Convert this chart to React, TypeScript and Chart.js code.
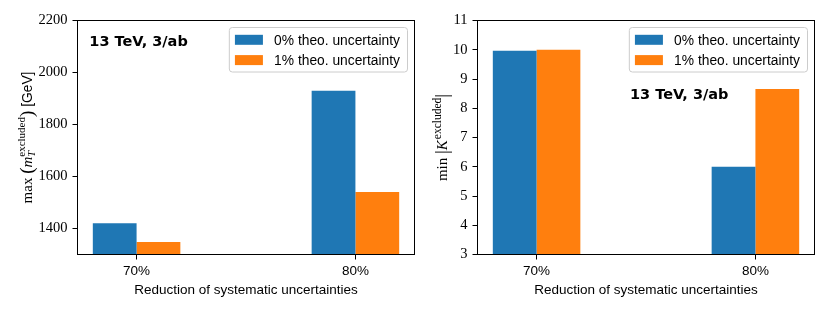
import React, { useEffect, useRef } from 'react';
import { Chart, registerables } from 'chart.js';

Chart.register(...registerables);

// ---------- data ----------
const categories = ['70%', '80%'];
const seriesLabels = ['0% theo. uncertainty', '1% theo. uncertainty'];
const seriesColors = ['#1f77b4', '#ff7f0e'];

const massZeroTheo = [1420, 1930];
const massOneTheo = [1348, 1540];
const kappaZeroTheo = [9.97, 6.0];
const kappaOneTheo = [10.0, 8.66];

const massTicks = [1400, 1600, 1800, 2000, 2200];
const kappaTicks = [3, 4, 5, 6, 7, 8, 9, 10, 11];
const massRange = [1300, 2200];
const kappaRange = [3, 11];
const xRange = [-0.27, 1.27];

const annotationText = '13 TeV, 3/ab';
const xTitle = 'Reduction of systematic uncertainties';

// ---------- styles ----------
const SERIF = '"Liberation Serif", "DejaVu Serif", serif';
const SANS = '"Liberation Sans", Arial, sans-serif';
const BOLD = 'bold 14.5px "DejaVu Sans", sans-serif';

type Seg = { t: string; f: string; dy?: number; stack?: boolean };

const massYLabel: Seg[] = [
  { t: 'max', f: `15px ${SERIF}` },
  { t: ' ', f: `15px ${SERIF}` },
  { t: '(', f: `19px ${SERIF}`, dy: 1.5 },
  { t: 'm', f: `italic 15px ${SERIF}` },
  { t: 'T', f: `italic 10.5px ${SERIF}`, dy: 3, stack: true },
  { t: 'excluded', f: `11px ${SERIF}`, dy: -6.5 },
  { t: ')', f: `19px ${SERIF}`, dy: 1.5 },
  { t: ' [GeV]', f: `13.8px ${SANS}` },
];

const kappaYLabel: Seg[] = [
  { t: 'min', f: `15px ${SERIF}` },
  { t: ' ', f: `15px ${SERIF}` },
  { t: '|', f: `19px ${SERIF}`, dy: 1 },
  { t: 'K', f: `italic 15px ${SERIF}` },
  { t: ' ', f: `4px ${SERIF}` },
  { t: 'excluded', f: `11.5px ${SERIF}`, dy: -6.5 },
  { t: '|', f: `19px ${SERIF}`, dy: 1 },
];

function drawRotated(ctx: CanvasRenderingContext2D, segs: Seg[], x: number, cy: number) {
  const widths: number[] = [];
  let total = 0;
  segs.forEach((s) => {
    ctx.font = s.f;
    const w = ctx.measureText(s.t).width;
    widths.push(w);
    if (!s.stack) total += w;
  });
  ctx.save();
  ctx.translate(x, cy);
  ctx.rotate(-Math.PI / 2);
  ctx.fillStyle = '#000';
  ctx.textAlign = 'left';
  ctx.textBaseline = 'alphabetic';
  let cx = -total / 2;
  segs.forEach((s, i) => {
    ctx.font = s.f;
    ctx.fillText(s.t, cx, s.dy || 0);
    if (!s.stack) cx += widths[i];
  });
  ctx.restore();
}

function makeDecor(yLabel: Seg[], yLabelOffset: number, annot: { fx: number; fy: number }) {
  return {
    id: 'decor',
    afterDraw(chart: any) {
      const ctx: CanvasRenderingContext2D = chart.ctx;
      const a = chart.chartArea;
      const w = a.right - a.left;
      const h = a.bottom - a.top;
      ctx.save();
      // frame
      ctx.strokeStyle = '#000';
      ctx.lineWidth = 1;
      ctx.strokeRect(a.left, a.top, w, h);

      // x title
      ctx.fillStyle = '#000';
      ctx.font = `13.5px ${SANS}`;
      ctx.textAlign = 'center';
      ctx.textBaseline = 'alphabetic';
      ctx.fillText(xTitle, (a.left + a.right) / 2, a.bottom + 39);

      // annotation
      ctx.font = BOLD;
      ctx.textAlign = 'left';
      ctx.fillText(annotationText, a.left + annot.fx * w, a.top + annot.fy * h);

      // legend
      const fs = 13.8;
      ctx.font = `${fs}px ${SANS}`;
      const tw = Math.max(...seriesLabels.map((l) => ctx.measureText(l).width));
      const pad = 5.6;
      const hl = 28;
      const htp = 11.2;
      const bw = pad + hl + htp + tw + pad + 2;
      const bh = 44.5;
      const bx = a.right - 7 - bw;
      const by = a.top + 7;
      const r = 3;
      ctx.beginPath();
      ctx.moveTo(bx + r, by);
      ctx.lineTo(bx + bw - r, by);
      ctx.arcTo(bx + bw, by, bx + bw, by + r, r);
      ctx.lineTo(bx + bw, by + bh - r);
      ctx.arcTo(bx + bw, by + bh, bx + bw - r, by + bh, r);
      ctx.lineTo(bx + r, by + bh);
      ctx.arcTo(bx, by + bh, bx, by + bh - r, r);
      ctx.lineTo(bx, by + r);
      ctx.arcTo(bx, by, bx + r, by, r);
      ctx.closePath();
      ctx.fillStyle = 'rgba(255,255,255,0.8)';
      ctx.fill();
      ctx.strokeStyle = '#cccccc';
      ctx.lineWidth = 1;
      ctx.stroke();
      seriesLabels.forEach((lab, i) => {
        const cy = by + 12.3 + i * 20.3;
        ctx.fillStyle = seriesColors[i];
        ctx.fillRect(bx + pad, cy - 5, hl, 10);
        ctx.fillStyle = '#000';
        ctx.textAlign = 'left';
        ctx.textBaseline = 'alphabetic';
        ctx.fillText(lab, bx + pad + hl + htp, cy + 4.9);
      });

      // y label
      drawRotated(ctx, yLabel, a.left - yLabelOffset, (a.top + a.bottom) / 2);
      ctx.restore();
    },
  };
}

function makeConfig(
  zero: number[],
  one: number[],
  range: number[],
  ticks: number[],
  yWidth: number,
  padRight: number,
  decor: any
): any {
  const mk = (vals: number[], i: number) => ({
    label: seriesLabels[i],
    data: categories.map((_, k) => ({ x: k, y: vals[k] })),
    backgroundColor: seriesColors[i],
    borderWidth: 0,
    categoryPercentage: 0.4,
    barPercentage: 1,
  });
  return {
    type: 'bar',
    data: { datasets: [mk(zero, 0), mk(one, 1)] },
    options: {
      responsive: false,
      maintainAspectRatio: false,
      animation: false,
      events: [],
      layout: { padding: { left: 0, right: padRight, top: 20.5, bottom: 0 } },
      plugins: { legend: { display: false }, tooltip: { enabled: false }, title: { display: false } },
      scales: {
        x: {
          type: 'linear',
          min: xRange[0],
          max: xRange[1],
          offset: false,
          afterBuildTicks: (s: any) => {
            s.ticks = categories.map((_, i) => ({ value: i }));
          },
          afterFit: (s: any) => {
            s.height = 57.5;
          },
          grid: {
            display: true,
            offset: false,
            drawOnChartArea: false,
            drawTicks: true,
            tickLength: 5,
            color: '#000',
            lineWidth: 1,
          },
          border: { display: false },
          ticks: {
            callback: (_v: any, i: number) => categories[i],
            font: { family: SANS, size: 13.5 },
            color: '#000',
            padding: 4,
            maxRotation: 0,
            autoSkip: false,
          },
        },
        y: {
          type: 'linear',
          min: range[0],
          max: range[1],
          afterBuildTicks: (s: any) => {
            s.ticks = ticks.map((v) => ({ value: v }));
          },
          afterFit: (s: any) => {
            s.width = yWidth;
          },
          grid: {
            display: true,
            drawOnChartArea: false,
            drawTicks: true,
            tickLength: 5,
            color: '#000',
            lineWidth: 1,
          },
          border: { display: false },
          ticks: {
            callback: (v: any) => String(v),
            font: { family: SERIF, size: 14.5 },
            color: '#000',
            padding: 5,
            autoSkip: false,
          },
        },
      },
    },
    plugins: [decor],
  };
}

function ChartBox(props: { build: () => any; left: number }) {
  const ref = useRef<HTMLCanvasElement | null>(null);
  useEffect(() => {
    if (!ref.current) return;
    const chart = new Chart(ref.current, props.build());
    return () => chart.destroy();
  }, []);
  return (
    <div style={{ position: 'absolute', left: props.left, top: 0, width: 415, height: 312 }}>
      <canvas ref={ref} width={415} height={312} style={{ display: 'block', width: 415, height: 312 }} />
    </div>
  );
}

export default function App() {
  return (
    <div style={{ position: 'absolute', left: 0, top: 0, width: 830, height: 312, background: '#fff' }}>
      <ChartBox
        left={0}
        build={() =>
          makeConfig(
            massZeroTheo,
            massOneTheo,
            massRange,
            massTicks,
            77.5,
            0.5,
            makeDecor(massYLabel, 46, { fx: 0.035, fy: 0.108 })
          )
        }
      />
      <ChartBox
        left={415}
        build={() =>
          makeConfig(
            kappaZeroTheo,
            kappaOneTheo,
            kappaRange,
            kappaTicks,
            62.5,
            15.5,
            makeDecor(kappaYLabel, 30.5, { fx: 0.4525, fy: 0.335 })
          )
        }
      />
    </div>
  );
}
